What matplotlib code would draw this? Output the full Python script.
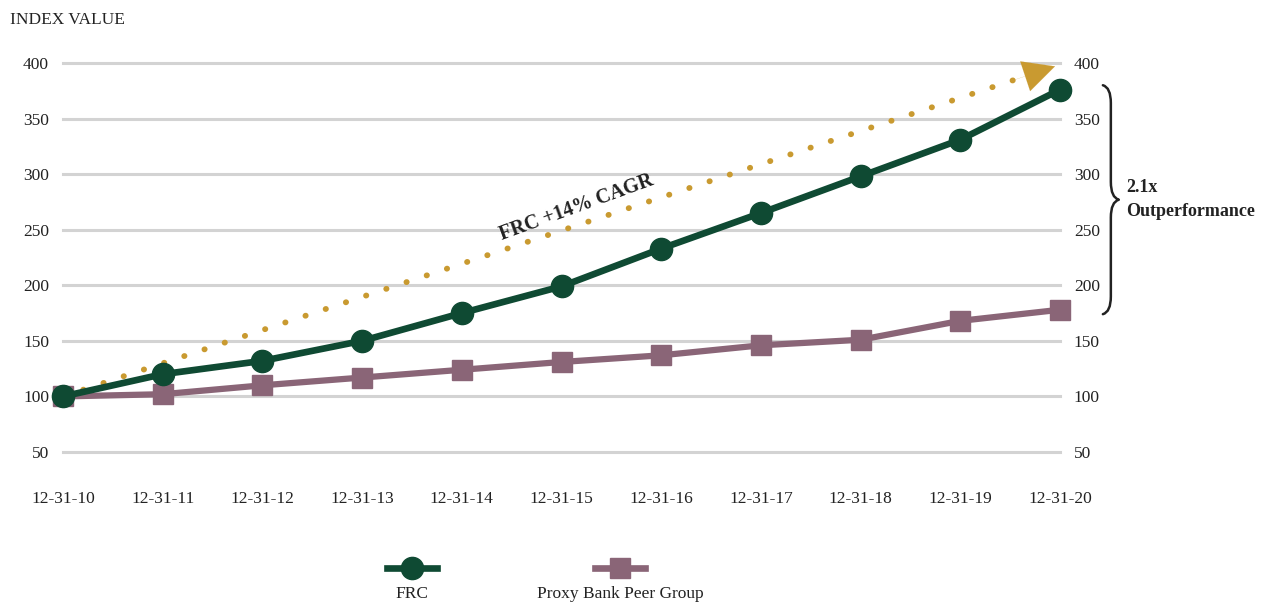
import matplotlib.pyplot as plt
from matplotlib.lines import Line2D
from matplotlib.path import Path
from matplotlib.patches import PathPatch

plt.rcParams["font.family"] = ["Liberation Serif", "DejaVu Serif"]

DATES = ["12-31-10", "12-31-11", "12-31-12", "12-31-13", "12-31-14", "12-31-15",
         "12-31-16", "12-31-17", "12-31-18", "12-31-19", "12-31-20"]
FRC = [100, 120, 132, 150, 175, 199, 233, 265, 298, 331, 376]
PEER = [100, 102, 110, 117, 124, 131, 137, 146, 151, 168, 178]
Y_TICKS = [50, 100, 150, 200, 250, 300, 350, 400]

# dotted CAGR trend arrow: from first FRC point to the tip near the top
CAGR_END_X = 9.95
CAGR_END_Y = 397

GREEN = "#0F4A33"
MAUVE = "#8A6577"
GOLD = "#C99A30"
GRID = "#D3D3D3"
TEXT = "#222222"

fig = plt.figure(figsize=(12.71, 6.04), dpi=100)
ax = fig.add_axes([63 / 1271, 1 - 452 / 604, (1060 - 63) / 1271, (452 - 63) / 604])

x = list(range(len(DATES)))

for y in Y_TICKS:
    ax.axhline(y, color=GRID, lw=2.2, zorder=0, clip_on=False)

# trend arrow
tip_frac = 0.965
ax.plot([0, CAGR_END_X * tip_frac], [FRC[0], FRC[0] + (CAGR_END_Y - FRC[0]) * tip_frac],
        color=GOLD, lw=4.2, linestyle=(0, (0.05, 3.6)), dash_capstyle="round",
        zorder=1, clip_on=False)
ax.annotate("", xy=(CAGR_END_X, CAGR_END_Y),
            xytext=(CAGR_END_X * 0.96, FRC[0] + (CAGR_END_Y - FRC[0]) * 0.96),
            arrowprops=dict(arrowstyle="-|>,head_length=1.5,head_width=0.75",
                            color=GOLD, lw=0.1, shrinkA=0, shrinkB=0, mutation_scale=15),
            zorder=2, annotation_clip=False)
ax.text(5.15, 270, "FRC +14% CAGR", rotation=20, ha="center", va="center",
        fontsize=14.5, fontweight="bold", color=TEXT, rotation_mode="anchor")

ax.plot(x, PEER, color=MAUVE, lw=4.5, marker="s", markersize=15, zorder=3, clip_on=False)
ax.plot(x, FRC, color=GREEN, lw=4.8, marker="o", markersize=16, zorder=4, clip_on=False)

ax.set_xlim(0, len(DATES) - 1)
ax.set_ylim(50, 400)
ax.set_xticks(x)
ax.set_xticklabels(DATES)
ax.set_yticks(Y_TICKS)
ax.tick_params(axis="both", length=0, labelsize=12.5, colors=TEXT)
ax.tick_params(axis="x", pad=28)
ax.tick_params(axis="y", pad=10, labelright=True)
for side in ["top", "right", "left", "bottom"]:
    ax.spines[side].set_visible(False)

fig.text(10 / 1271, 1 - 20 / 604, "INDEX VALUE", fontsize=12.5, color=TEXT,
         ha="left", va="center")

# brace between the final values
bx, bw = 10.43, 0.16
top, bot = FRC[-1] + 4, PEER[-1] - 4
mid = (top + bot) / 2
d = 16
verts = [(bx, top), (bx + bw / 2, top - 2), (bx + bw / 2, top - d),
         (bx + bw / 2, mid + d),
         (bx + bw / 2, mid + 2), (bx + bw, mid),
         (bx + bw / 2, mid - 2), (bx + bw / 2, mid - d),
         (bx + bw / 2, bot + d),
         (bx + bw / 2, bot + 2), (bx, bot)]
codes = [Path.MOVETO, Path.CURVE3, Path.CURVE3, Path.LINETO,
         Path.CURVE3, Path.CURVE3, Path.CURVE3, Path.CURVE3,
         Path.LINETO, Path.CURVE3, Path.CURVE3]
ax.add_patch(PathPatch(Path(verts, codes), fill=False, lw=1.8, color=TEXT,
                       clip_on=False, capstyle="round", joinstyle="round"))
ax.text(10.66, mid, "2.1x\nOutperformance", ha="left", va="center", fontsize=13,
        fontweight="bold", color=TEXT, linespacing=1.5)

# legend drawn below the chart
legend_items = [("FRC", GREEN, "o", 16, 412), ("Proxy Bank Peer Group", MAUVE, "s", 15, 620)]
for label, color, marker, ms, cx in legend_items:
    fig.add_artist(Line2D([(cx - 25) / 1271, (cx + 25) / 1271], [1 - 568 / 604] * 2,
                          color=color, lw=4.8, transform=fig.transFigure))
    fig.add_artist(Line2D([cx / 1271], [1 - 568 / 604], color=color, marker=marker,
                          markersize=ms, transform=fig.transFigure))
    fig.text(cx / 1271, 1 - 594 / 604, label, ha="center", va="center",
             fontsize=12.5, color=TEXT)

fig.savefig("out.png", dpi=100)
